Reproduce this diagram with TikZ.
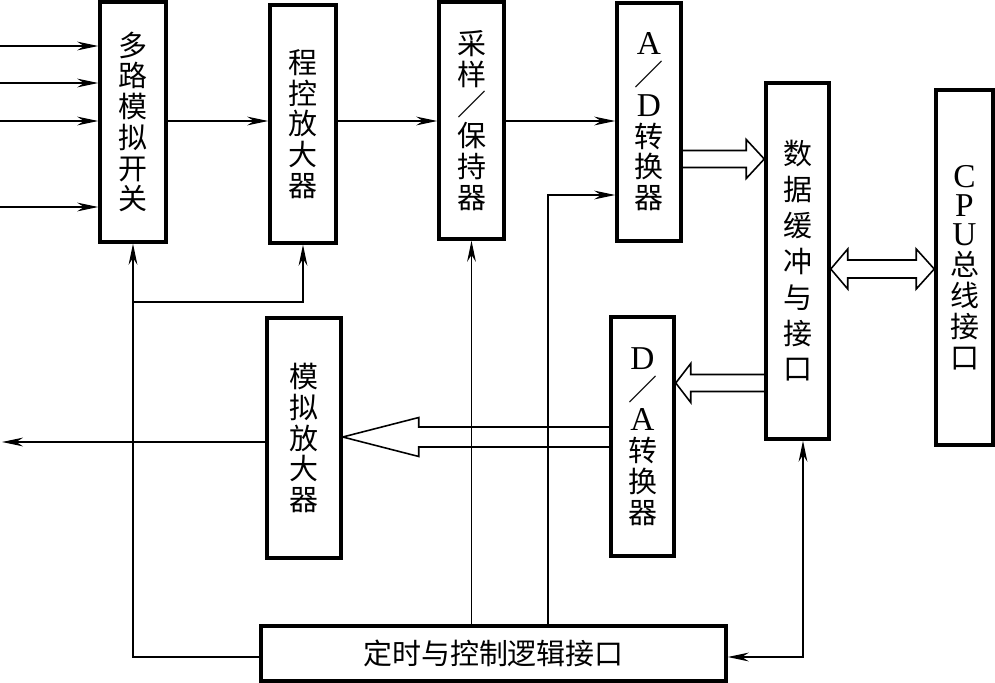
\documentclass[tikz,border=0pt]{standalone}
\usepackage{fontspec}
\setmainfont{Noto Sans CJK SC}
\newfontfamily\lat[Scale=1.15]{Liberation Serif}
\usetikzlibrary{arrows.meta,calc}

\tikzset{
  >={Stealth[length=12pt,width=5pt]},
  blk/.style={draw,line width=2pt,inner sep=0pt,align=center,
    font=\fontsize{16.5}{17.5}\selectfont},
  sig/.style={line width=0.7pt,->},
  fat/.style={line width=0.9pt},
}

% hollow arrow: tail, tip, head offset, shaft half, head half
\newcommand{\fatarrow}[5]{%
  \draw[fat] ($(#1)+(0,#4)$) -- ($(#2)+(#3,#4)$) -- ($(#2)+(#3,#5)$) -- (#2)
    -- ($(#2)+(#3,-#5)$) -- ($(#2)+(#3,-#4)$) -- ($(#1)+(0,-#4)$);}

\begin{document}
\begin{tikzpicture}[x=0.02cm,y=-0.02cm]

\useasboundingbox (0,0) rectangle (995,683);

% blocks
\node[blk,minimum width=1.32cm,minimum height=4.8cm] (mux) at (133,122) {多\\路\\模\\拟\\开\\关};
\node[blk,minimum width=1.32cm,minimum height=4.76cm] (pga) at (303,124) {程\\控\\放\\大\\器};
\node[blk,minimum width=1.30cm,minimum height=4.74cm] (sh) at (471.5,120.5) {采\\样\\／\\保\\持\\器};
\node[blk,minimum width=1.28cm,minimum height=4.76cm] (adc) at (649,122) {{\lat A}\\／\\{\lat D}\\转\\换\\器};
\node[blk,minimum width=1.26cm,minimum height=7.12cm,
  font=\fontsize{16.5}{20.4}\selectfont] (buf) at (797.5,261) {数\\据\\缓\\冲\\与\\接\\口};
\node[blk,minimum width=1.14cm,minimum height=7.10cm] (cpu) at (964.5,267.5)
  {{\lat C}\\[-1pt]{\lat P}\\[-1pt]{\lat U}\\总\\线\\接\\口};
\node[blk,minimum width=1.48cm,minimum height=4.8cm] (amp) at (304,438) {模\\拟\\放\\大\\器};
\node[blk,minimum width=1.26cm,minimum height=4.78cm] (dac) at (642.5,436.5) {{\lat D}\\／\\{\lat A}\\转\\换\\器};
\node[blk,minimum width=9.3cm,minimum height=1.1cm] (ctl) at (493.5,653.5) {定时与控制逻辑接口};

% analog inputs
\foreach \y [count=\i] in {46,83,121,207}{
  \coordinate (in\i) at (0,\y);
  \draw[sig] (in\i) -- (in\i -| mux.west);
}

% signal chain
\coordinate (r1) at (0,121);
\draw[sig] (r1 -| mux.east) -- (r1 -| pga.west);
\draw[sig] (r1 -| pga.east) -- (r1 -| sh.west);
\draw[sig] (r1 -| sh.east) -- (r1 -| adc.west);

% data paths
\coordinate (h1) at (0,159);
\coordinate (h2) at (0,269);
\coordinate (h3) at (0,383);
\coordinate (h4) at (0,437);
\fatarrow{h1 -| adc.east}{h1 -| buf.west}{-18}{8.5}{19.5}
\fatarrow{h3 -| buf.west}{h3 -| dac.east}{15}{8.5}{19.5}
\fatarrow{h4 -| dac.west}{h4 -| amp.east}{76}{10}{19.5}
\draw[fat] (h2 -| buf.east) -- ++(17,-20) -- ++(0,11) -- ($(h2 -| cpu.west)+(-18,-9)$)
  -- ++(0,-11) -- (h2 -| cpu.west) -- ++(-18,20) -- ++(0,-11)
  -- ($(h2 -| buf.east)+(17,9)$) -- ++(0,11) -- cycle;

% analog output
\coordinate (out) at (2,442);
\draw[sig] (amp.west |- out) -- (out);

% control lines
\coordinate (c1) at (0,657);
\coordinate (br) at (133,302);
\coordinate (k1) at (548,195);
\coordinate (k2) at (803,0);
\draw[sig] (c1 -| ctl.west) -| (mux.south);
\draw[sig] (mux.south |- br) -| (pga.south);
\draw[sig] (ctl.north -| sh.south) -- (sh.south);
\draw[sig] (ctl.north -| k1) |- (adc.west |- k1);
\draw[sig,<->] (c1 -| ctl.east) -| (k2 |- buf.south);

\end{tikzpicture}
\end{document}
